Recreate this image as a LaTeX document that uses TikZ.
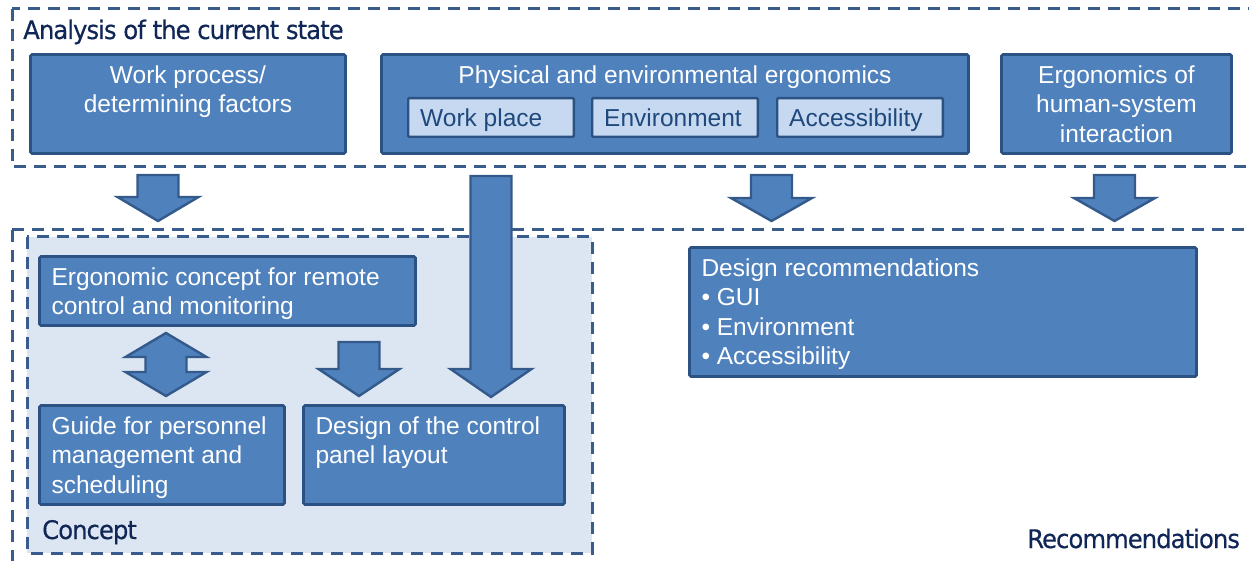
\documentclass[tikz,border=0pt]{standalone}
\usepackage{fontspec}
\setmainfont{Liberation Sans}
\newfontfamily\labelfont{DejaVu Sans}[FakeStretch=0.95, LetterSpace=-3.8, FakeBold=0.4]

\definecolor{boxblue}{HTML}{4F81BD}
\definecolor{boxedge}{HTML}{2C5283}
\definecolor{arrowedge}{HTML}{345A8C}
\definecolor{frameblue}{HTML}{3A5C8C}
\definecolor{lightblue}{HTML}{C6D9F1}
\definecolor{subtext}{HTML}{1F497D}
\definecolor{conceptfill}{HTML}{DCE6F2}
\definecolor{navy}{HTML}{0F2656}

\newcommand\boxfont{\fontsize{24.5}{29.5}\selectfont}
% #1 width, #2 height, #3 alignment, #4 text (top aligned)
\newcommand\boxtext[4]{\parbox[c][#2][t]{#1}{\vspace*{8pt}#3\strut #4}}
\newcommand\lpad{\raggedright\setlength\leftskip{12pt}}

\tikzset{
  frame/.style={draw=frameblue, line width=3pt, dash pattern=on 12pt off 8pt},
  box/.style={draw=boxedge, fill=boxblue, line width=2.8pt, rounded corners=1.5pt,
    inner sep=0pt, text=white, font=\boxfont},
  subbox/.style={draw=boxedge, fill=lightblue, line width=2.4pt, rounded corners=1pt,
    inner sep=0pt, text=subtext, font=\boxfont},
  grouplabel/.style={text=navy, font=\labelfont\fontsize{25.6}{30}\selectfont,
    inner sep=0pt, anchor=base west},
  blockarrow/.style={fill=boxblue, draw=arrowedge, line width=2.4pt, line join=miter},
  pics/downarrow/.style 2 args={code={
    \draw[blockarrow] (-20.5,0) -- (20.5,0) -- (20.5,#1-#2) -- (40.5,#1-#2)
      -- (0,#1) -- (-40.5,#1-#2) -- (-20.5,#1-#2) -- cycle;}},
  pics/updownarrow/.style={code={
    \draw[blockarrow] (0,0) -- (40.5,24) -- (20.5,24) -- (20.5,39) -- (40.5,39)
      -- (0,63) -- (-40.5,39) -- (-20.5,39) -- (-20.5,24) -- (-40.5,24) -- cycle;}},
}

\begin{document}
\begin{tikzpicture}[x=1pt, y=-1pt]
\useasboundingbox (0,0) rectangle (1249,561);
\clip (0,0) rectangle (1249,561);

% group frames
\draw[frame] (12,9) rectangle (1268,167);
\draw[frame] (12,230) rectangle (1268,580);
\draw[frame, fill=conceptfill] (27,237) rectangle (592,553);

% group labels
\node[grouplabel] (lanalysis) at (23,39) {Analysis of the current state};
\node[grouplabel] (lconcept) at (42,539) {Concept};
\node[grouplabel] (lrecom) at (1027,548) {Recommendations};

% analysis boxes
\node[box] (work) at (188,104) {\boxtext{315pt}{99pt}{\centering}{Work process/\\determining factors}};
\node[box] (phys) at (675,104) {\boxtext{587pt}{99pt}{\centering}{Physical and environmental ergonomics}};
\node[subbox] (wplace) at (491,117.5) {\boxtext{165.6pt}{38.6pt}{\lpad}{Work place}};
\node[subbox] (envir) at (675,117.5) {\boxtext{165.6pt}{38.6pt}{\lpad}{Environment}};
\node[subbox] (access) at (860,117.5) {\boxtext{165.6pt}{38.6pt}{\lpad}{Accessibility}};
\node[box] (hsi) at (1116.5,104) {\boxtext{230pt}{99pt}{\centering}{Ergonomics of\\human-system\\interaction}};

% concept boxes
\node[box] (remote) at (227.5,291) {\boxtext{376pt}{69pt}{\lpad}{Ergonomic concept for remote\\control and monitoring}};
\node[box] (guide) at (162,455) {\boxtext{245pt}{99pt}{\lpad}{Guide for personnel\\management and\\scheduling}};
\node[box] (panel) at (434,455) {\boxtext{261pt}{99pt}{\lpad}{Design of the control\\panel layout}};

% recommendations box
\node[box] (design) at (943,312) {\boxtext{507pt}{129pt}{\lpad}{Design recommendations\\• GUI\\• Environment\\• Accessibility}};

% block arrows
\pic at (158,175) {downarrow={46}{24}};
\pic at (771.5,175) {downarrow={46}{23}};
\pic at (1114.5,175) {downarrow={46}{23}};
\pic at (491,176) {downarrow={221}{28}};
\pic at (359,342) {downarrow={54}{27}};
\pic at (166,333) {updownarrow};
\end{tikzpicture}
\end{document}
